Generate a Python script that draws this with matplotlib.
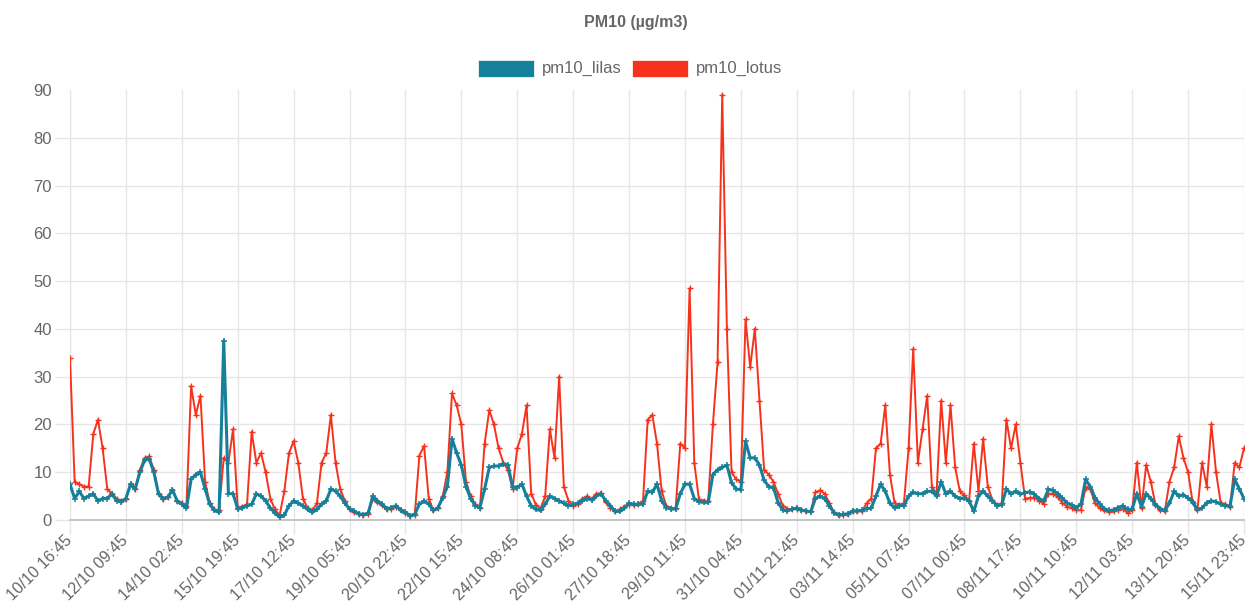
import numpy as np
import matplotlib.pyplot as plt
from matplotlib.patches import Rectangle

plt.rcParams['font.family'] = ['Liberation Sans', 'DejaVu Sans']

tick_labels = ["10/10 16:45", "12/10 09:45", "14/10 02:45", "15/10 19:45", "17/10 12:45",
               "19/10 05:45", "20/10 22:45", "22/10 15:45", "24/10 08:45", "26/10 01:45",
               "27/10 18:45", "29/10 11:45", "31/10 04:45", "01/11 21:45", "03/11 14:45",
               "05/11 07:45", "07/11 00:45", "08/11 17:45", "10/11 10:45", "12/11 03:45",
               "13/11 20:45", "15/11 23:45"]

# 12 readings between two labelled ticks
pm10_lilas = [
    7.5, 4.5, 6.0, 4.5, 5.0, 5.5, 4.0, 4.5, 4.5, 5.5, 4.0, 3.8,
    4.5, 7.5, 6.5, 10.0, 12.5, 12.8, 10.0, 5.5, 4.5, 4.8, 6.3, 4.0,
    3.3, 2.5, 8.5, 9.5, 10.0, 6.5, 3.3, 2.0, 1.6, 37.5, 5.5, 5.5,
    2.3, 2.6, 3.0, 3.3, 5.5, 5.0, 4.0, 2.5, 1.5, 0.6, 1.0, 3.0,
    4.0, 3.5, 3.0, 2.2, 1.6, 2.2, 3.3, 4.0, 6.5, 6.0, 5.0, 3.5,
    2.3, 1.8, 1.3, 1.1, 1.4, 5.0, 4.0, 3.3, 2.3, 2.6, 3.0, 2.0,
    1.6, 0.9, 1.2, 3.3, 4.0, 3.3, 2.0, 2.6, 4.7, 7.0, 17.0, 14.0,
    11.5, 7.0, 4.5, 3.0, 2.6, 6.5, 11.0, 11.3, 11.3, 11.8, 11.5, 7.0,
    6.8, 7.5, 5.0, 3.0, 2.2, 2.0, 3.3, 5.0, 4.5, 4.0, 3.5, 3.0,
    3.3, 3.5, 4.0, 4.5, 4.2, 5.0, 5.5, 4.0, 3.0, 1.8, 1.8, 2.5,
    3.5, 3.3, 3.3, 3.3, 6.0, 5.8, 7.5, 4.0, 2.6, 2.3, 2.3, 5.5,
    7.5, 7.5, 4.5, 3.8, 3.7, 3.7, 9.5, 10.5, 11.0, 11.5, 7.8, 6.5,
    6.3, 16.5, 13.0, 13.0, 11.5, 8.3, 7.0, 6.8, 3.6, 2.1, 1.9, 2.3,
    2.5, 2.1, 1.9, 1.7, 4.5, 5.0, 4.5, 3.0, 1.5, 1.0, 1.2, 1.3,
    1.9, 1.9, 2.0, 2.4, 2.5, 5.0, 7.5, 6.0, 3.5, 2.5, 3.0, 3.0,
    5.0, 5.8, 5.5, 5.5, 6.0, 6.0, 5.0, 8.0, 5.5, 6.0, 5.0, 4.5,
    4.6, 4.0, 1.8, 5.0, 6.0, 5.0, 4.0, 3.0, 3.2, 6.5, 5.5, 6.0,
    5.4, 5.7, 5.9, 5.4, 4.5, 4.0, 6.4, 6.2, 5.5, 4.6, 3.6, 3.1,
    2.6, 3.3, 8.5, 7.0, 4.7, 3.4, 2.4, 2.0, 2.1, 2.6, 3.0, 2.2,
    2.3, 5.5, 2.8, 5.5, 4.5, 3.3, 2.4, 2.0, 3.5, 6.0, 5.0, 5.3,
    4.6, 3.8, 2.2, 2.5, 3.6, 4.0, 3.8, 3.3, 3.0, 2.9, 8.5, 6.5,
    4.5,
]

pm10_lotus = [
    34.0, 8.0, 7.5, 7.0, 7.0, 18.0, 21.0, 15.0, 6.5, 5.5, 4.5, 4.0,
    4.5, 7.5, 6.5, 10.5, 13.0, 13.3, 10.5, 5.5, 4.5, 4.8, 6.3, 4.0,
    3.5, 3.0, 28.0, 22.0, 26.0, 8.0, 3.5, 2.2, 2.0, 13.0, 12.0, 19.0,
    2.6, 2.8, 3.3, 18.5, 12.0, 14.0, 10.0, 4.5, 2.2, 1.0, 6.0, 14.0,
    16.5, 12.0, 4.5, 2.5, 2.0, 3.5, 12.0, 14.0, 22.0, 12.0, 6.5, 4.0,
    2.2, 1.6, 1.2, 1.0, 1.3, 4.6, 3.7, 3.1, 2.2, 2.4, 2.8, 2.0,
    1.5, 0.8, 1.1, 13.5, 15.5, 4.5, 2.0, 2.5, 5.0, 10.0, 26.5, 24.0,
    20.0, 8.0, 5.0, 3.3, 2.6, 16.0, 23.0, 20.0, 15.0, 12.0, 10.5, 6.5,
    15.0, 18.0, 24.0, 5.5, 3.2, 2.4, 5.0, 19.0, 13.0, 30.0, 7.0, 4.0,
    3.0, 3.3, 4.5, 5.0, 4.3, 5.5, 5.6, 3.8, 2.6, 1.9, 2.2, 2.8,
    3.2, 3.2, 3.4, 4.0, 21.0, 22.0, 16.0, 6.0, 3.0, 2.5, 2.5, 16.0,
    15.0, 48.5, 12.0, 4.3, 4.0, 4.0, 20.0, 33.0, 89.0, 40.0, 10.0, 8.5,
    8.0, 42.0, 32.0, 40.0, 25.0, 10.5, 9.5, 8.0, 5.5, 3.0, 2.3, 2.3,
    2.4, 2.0, 1.8, 1.8, 5.8, 6.2, 5.5, 3.5, 1.6, 1.0, 1.0, 1.2,
    1.8, 1.8, 1.9, 3.5, 4.5, 15.0, 16.0, 24.0, 9.5, 3.5, 3.2, 3.5,
    15.0, 35.8, 12.0, 19.0, 26.0, 7.0, 5.5, 25.0, 12.0, 24.0, 11.0, 6.0,
    5.2, 4.0, 16.0, 6.0, 17.0, 7.0, 4.2, 3.2, 3.5, 21.0, 15.0, 20.0,
    12.0, 4.5, 4.6, 4.7, 4.0, 3.4, 5.5, 5.5, 4.8, 3.6, 2.8, 2.5,
    2.0, 2.1, 6.8, 6.5, 3.5, 2.5, 2.0, 1.6, 1.8, 2.1, 2.3, 1.5,
    2.0, 12.0, 2.5, 11.5, 8.0, 3.2, 2.0, 1.8, 8.0, 11.0, 17.5, 13.0,
    10.0, 3.5, 2.0, 12.0, 7.0, 20.0, 10.0, 3.6, 3.3, 2.7, 12.0, 11.0,
    15.0,
]

LILAS = '#16809a'
LOTUS = '#f6321c'
GREY = '#666666'
GRID = '#e6e6e6'

W, H = 1255, 601
fig = plt.figure(figsize=(W / 100, H / 100), dpi=100)
ax = fig.add_axes([70 / W, 1 - 520 / H, (1244 - 70) / W, (520 - 90) / H])

x = np.arange(len(pm10_lilas))
ax.plot(x, pm10_lotus, color=LOTUS, lw=1.4, marker='+', ms=4, mew=1.0, zorder=3)
ax.plot(x, pm10_lilas, color=LILAS, lw=2.2, marker='+', ms=4, mew=1.1, zorder=4)

ax.set_xlim(0, len(x) - 1)
ax.set_ylim(0, 90)
ax.set_yticks(range(0, 91, 10))
ax.set_xticks(np.linspace(0, len(x) - 1, len(tick_labels)))
ax.set_xticklabels(tick_labels, rotation=45, ha='right', va='center',
                   rotation_mode='anchor', fontsize=11.5)

ax.grid(True, color=GRID, lw=1)
ax.set_axisbelow(True)
ax.tick_params(axis='both', colors=GRID, labelcolor=GREY, labelsize=12, width=1)
ax.tick_params(axis='y', length=11, pad=2)
ax.tick_params(axis='x', length=10, pad=3, labelsize=11.5)

# no line on the top (90) tick
top = ax.yaxis.get_major_ticks()[-1]
top.gridline.set_visible(False)
top.tick1line.set_visible(False)

for s in ['top', 'right']:
    ax.spines[s].set_visible(False)
ax.spines['left'].set_color(GRID)
ax.spines['bottom'].set_color('#c0c0c0')
ax.spines['bottom'].set_linewidth(1.3)

fig.text(636 / W, 1 - 22 / H, 'PM10 (µg/m3)', ha='center', va='center',
         fontsize=11.5, fontweight='bold', color=GREY)

# legend
for bx, col, name in [(478, LILAS, 'pm10_lilas'), (632, LOTUS, 'pm10_lotus')]:
    fig.add_artist(Rectangle((bx / W, 1 - 77 / H), 56 / W, 17 / H, transform=fig.transFigure,
                             facecolor=col, edgecolor='white', lw=0.5))
    fig.text((bx + 64) / W, 1 - 68.5 / H, name, ha='left', va='center', fontsize=12, color=GREY)

fig.savefig('out.png', dpi=100)
